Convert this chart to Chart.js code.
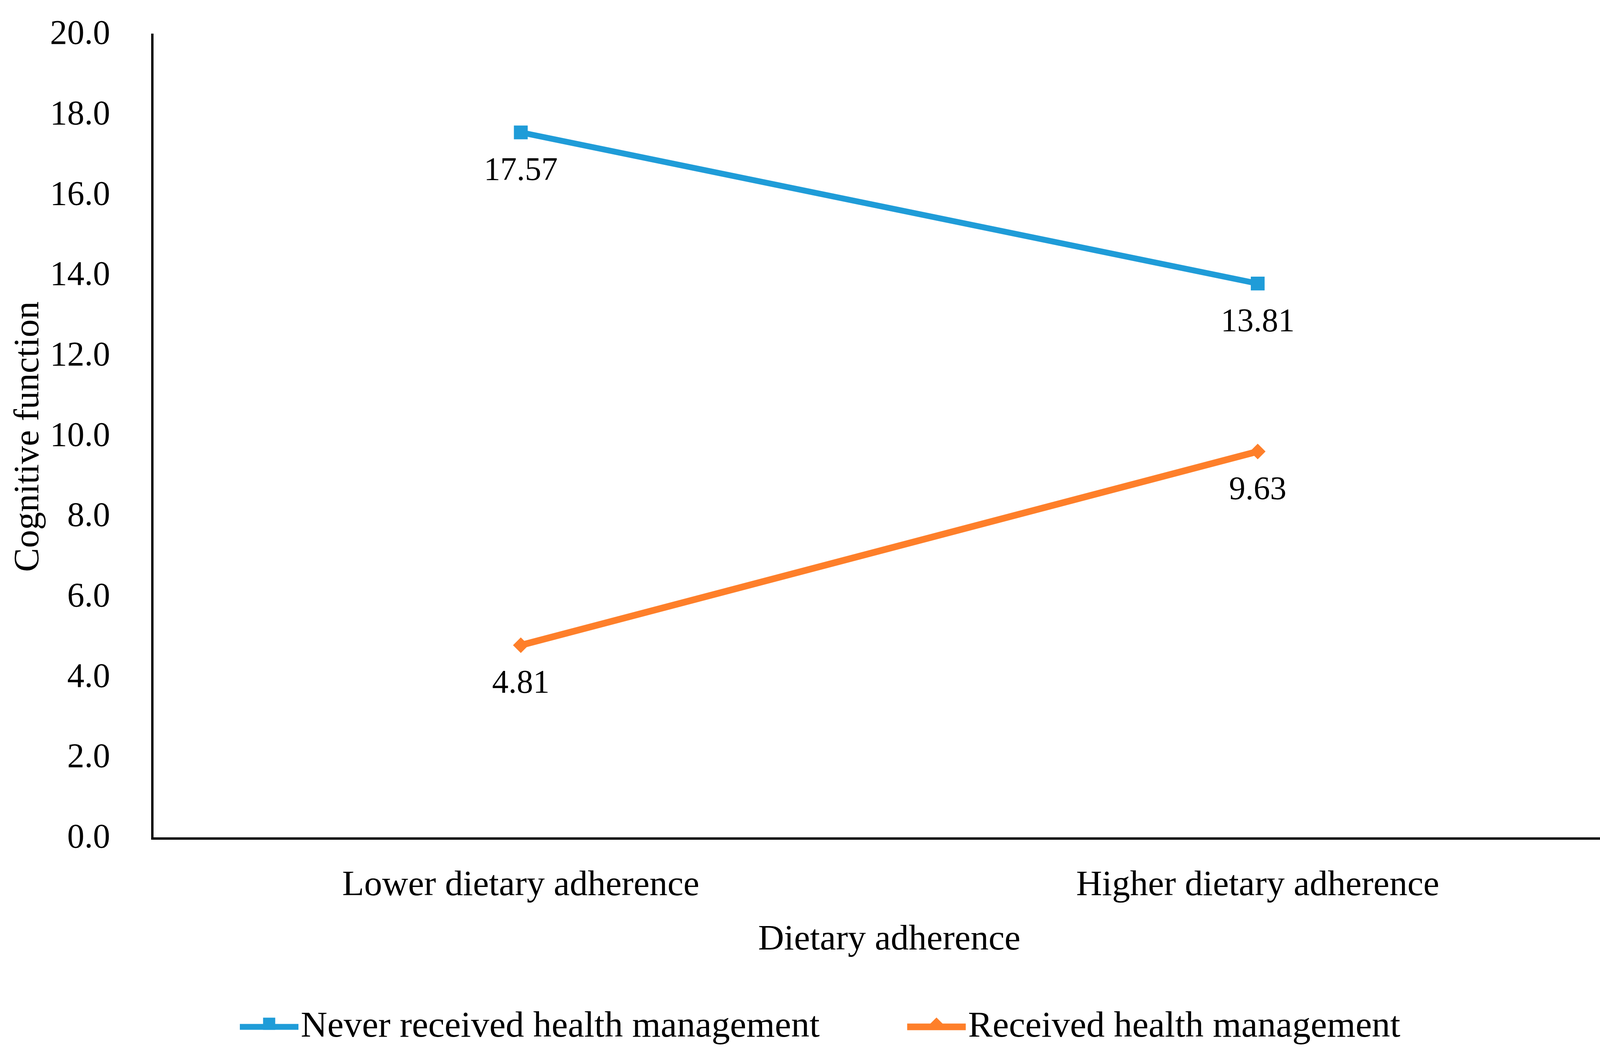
<!DOCTYPE html>
<html>
<head>
<meta charset="utf-8">
<script src="https://cdn.jsdelivr.net/npm/chart.js@4.4.1/dist/chart.umd.min.js"></script>
<style>
  html, body { margin: 0; padding: 0; background: #fff; }
  canvas { display: block; }
</style>
</head>
<body>
<canvas id="myChart" width="4239" height="2700" style="width:4239px;height:2700px"></canvas>
<script>
// data
const categories = ['Lower dietary adherence', 'Higher dietary adherence'];
const seriesNames = ['Never received health management', 'Received health management'];
const neverValues = [17.57, 13.81];
const receivedValues = [4.81, 9.63];
const yMin = 0;
const yMax = 20;
const yStep = 2;

const blue = '#1F9CD8';
const orange = '#FE7F2A';
const serif = '"Liberation Serif", "Times New Roman", serif';

Chart.defaults.font.family = serif;
Chart.defaults.color = '#000';

// value labels under each point
const valueLabels = {
  id: 'valueLabels',
  afterDatasetsDraw(chart) {
    const ctx = chart.ctx;
    ctx.save();
    ctx.font = '84px ' + serif;
    ctx.fillStyle = '#000';
    ctx.textAlign = 'center';
    ctx.textBaseline = 'middle';
    chart.data.datasets.forEach((ds, i) => {
      chart.getDatasetMeta(i).data.forEach((pt, j) => {
        ctx.fillText(ds.data[j].toFixed(2), pt.x, pt.y + 100);
      });
    });
    ctx.restore();
  }
};

// legend with line + marker, like the office style one
const lineLegend = {
  id: 'lineLegend',
  afterDraw(chart) {
    const ctx = chart.ctx;
    const y = 2628;
    const markW = 150, gapText = 6, gapItem = 224;
    ctx.save();
    ctx.font = '94px ' + serif;
    const widths = chart.data.datasets.map(ds => ctx.measureText(ds.label).width);
    let total = gapItem * (widths.length - 1);
    widths.forEach(w => { total += markW + gapText + w; });
    let x = chart.width / 2 - 20 - total / 2;
    chart.data.datasets.forEach((ds, i) => {
      ctx.strokeStyle = ds.borderColor;
      ctx.lineWidth = ds.borderWidth;
      ctx.beginPath();
      ctx.moveTo(x, y);
      ctx.lineTo(x + markW, y);
      ctx.stroke();
      ctx.fillStyle = ds.pointBackgroundColor;
      Chart.helpers.drawPoint(ctx, {
        pointStyle: ds.pointStyle,
        radius: ds.legendRadius,
        rotation: 0,
        borderWidth: 0
      }, x + markW / 2, y - 8);
      ctx.fillStyle = '#000';
      ctx.textAlign = 'left';
      ctx.textBaseline = 'middle';
      ctx.fillText(ds.label, x + markW + gapText, y);
      x += markW + gapText + widths[i] + gapItem;
    });
    ctx.restore();
  }
};

let myChart = document.getElementById('myChart').getContext('2d');
let chart = new Chart(myChart, {
  type: 'line',
  data: {
    labels: categories,
    datasets: [
      {
        label: seriesNames[0],
        data: neverValues,
        borderColor: blue,
        backgroundColor: blue,
        pointBackgroundColor: blue,
        pointBorderWidth: 0,
        borderWidth: 15,
        pointStyle: 'rect',
        pointRadius: 25,
        legendRadius: 22,
        fill: false,
        tension: 0
      },
      {
        label: seriesNames[1],
        data: receivedValues,
        borderColor: orange,
        backgroundColor: orange,
        pointBackgroundColor: orange,
        pointBorderWidth: 0,
        borderWidth: 17,
        pointStyle: 'rectRot',
        pointRadius: 20,
        legendRadius: 16,
        fill: false,
        tension: 0
      }
    ]
  },
  options: {
    responsive: false,
    animation: false,
    devicePixelRatio: 1,
    layout: {
      padding: { top: 89, right: 76, bottom: 248, left: 0 }
    },
    plugins: {
      legend: { display: false },
      tooltip: { enabled: false }
    },
    scales: {
      x: {
        offset: true,
        grid: { display: false, drawTicks: true, tickLength: 70 },
        border: { display: true, color: '#000', width: 6 },
        ticks: {
          color: '#000',
          padding: 5,
          font: { size: 92, lineHeight: 1.0 }
        },
        title: {
          display: true,
          text: 'Dietary adherence',
          color: '#000',
          font: { size: 92, lineHeight: 1.0 },
          padding: { top: 42, bottom: 0 }
        }
      },
      y: {
        min: yMin,
        max: yMax,
        grid: { display: false, drawTicks: true, tickLength: 100 },
        border: { display: true, color: '#000', width: 6 },
        ticks: {
          stepSize: yStep,
          color: '#000',
          padding: 8,
          font: { size: 88, lineHeight: 1.0 },
          callback: v => Number(v).toFixed(1)
        },
        title: {
          display: true,
          text: 'Cognitive function',
          color: '#000',
          font: { size: 92, lineHeight: 1.0 },
          padding: { top: 28, bottom: 0 }
        }
      }
    }
  },
  plugins: [valueLabels, lineLegend]
});
</script>
</body>
</html>
